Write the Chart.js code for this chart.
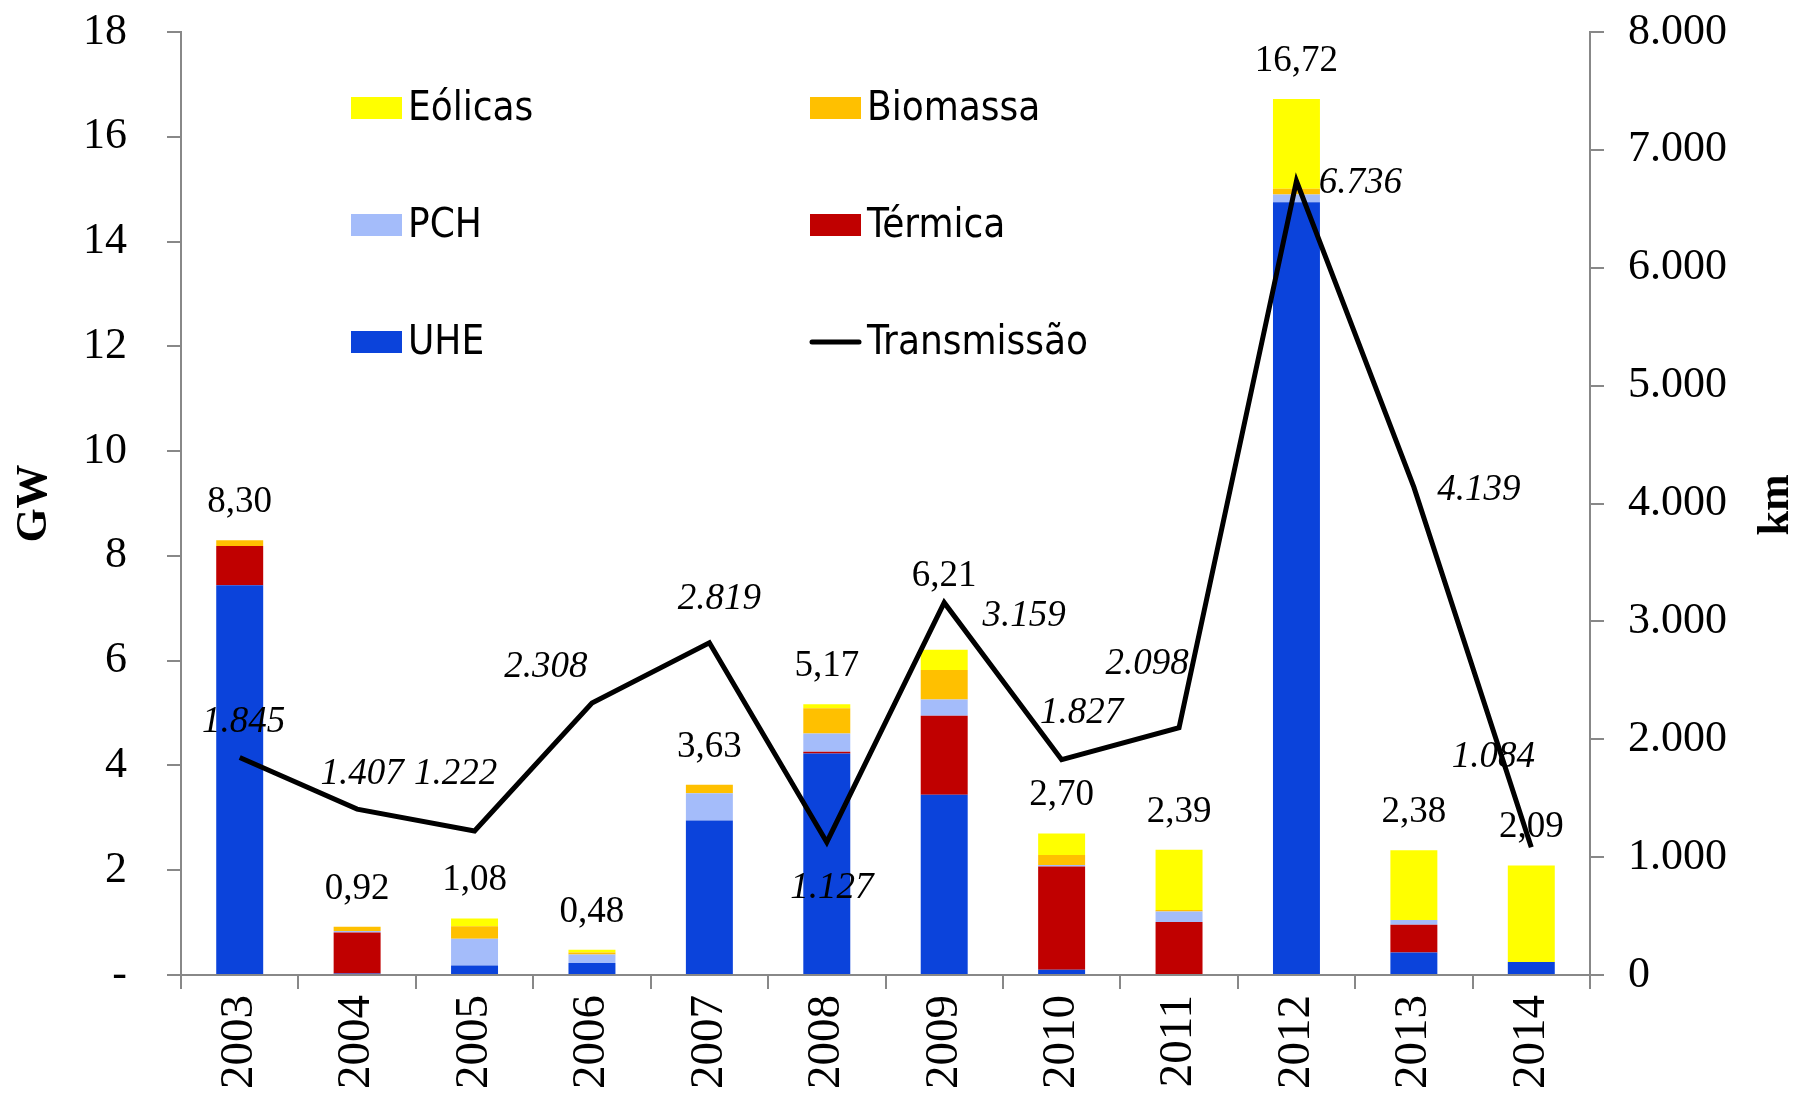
<!DOCTYPE html>
<html>
<head>
<meta charset="utf-8">
<script src="https://cdn.jsdelivr.net/npm/chart.js@4.4.1/dist/chart.umd.min.js"></script>
<style>
  html, body { margin: 0; padding: 0; background: #fff; }
  #wrap { width: 1798px; height: 1103px; }
</style>
</head>
<body>
<div id="wrap"><canvas id="myChart"></canvas></div>
<script>
// values
const years = ['2003','2004','2005','2006','2007','2008','2009','2010','2011','2012','2013','2014'];
const uhe      = [7.44, 0.03, 0.18, 0.23, 2.95, 4.23, 3.44, 0.10, 0.00, 14.75, 0.43, 0.25];
const termica  = [0.75, 0.78, 0.00, 0.00, 0.00, 0.03, 1.51, 1.97, 1.01, 0.00, 0.53, 0.00];
const pch      = [0.00, 0.03, 0.51, 0.16, 0.52, 0.35, 0.31, 0.03, 0.20, 0.15, 0.09, 0.00];
const biomassa = [0.11, 0.08, 0.24, 0.04, 0.16, 0.48, 0.56, 0.19, 0.03, 0.11, 0.00, 0.00];
const eolicas  = [0.00, 0.00, 0.15, 0.05, 0.00, 0.08, 0.39, 0.41, 1.15, 1.71, 1.33, 1.84];
const totals   = [8.30, 0.92, 1.08, 0.48, 3.63, 5.17, 6.21, 2.70, 2.39, 16.72, 2.38, 2.09];
const transmissao = [1845, 1407, 1222, 2308, 2819, 1127, 3159, 1827, 2098, 6736, 4139, 1084];

// label placement (px)
const totalLabelLift = [38, 38, 38, 38, 38, 38, 73, 38, 38, 38, 38, 38];
const lineLabelOffsets = [[4,-35],[5,-35],[-19,-57],[-46,-36],[10,-43],[5,46],[80,14],[20,-46],[-32,-63],[64,2],[65,3],[-38,-90]];

const serif = '"Liberation Serif", "Times New Roman", serif';
const sans = '"DejaVu Sans Condensed", "DejaVu Sans", sans-serif';
const axisGray = '#888888';

const fmtKm = v => String(v).replace(/\B(?=(\d{3})+(?!\d))/g, '.');
const fmtGw = v => v.toFixed(2).replace('.', ',');

const labelsPlugin = {
  id: 'labelsPlugin',
  afterDatasetsDraw(chart) {
    const ctx = chart.ctx;
    const x = chart.scales.x, y = chart.scales.y;
    ctx.save();
    ctx.fillStyle = '#000';
    ctx.textAlign = 'center';
    ctx.textBaseline = 'middle';
    ctx.font = '37px ' + serif;
    totals.forEach((t, i) => {
      ctx.fillText(fmtGw(t), x.getPixelForValue(i), y.getPixelForValue(t) - totalLabelLift[i]);
    });
    ctx.font = 'italic 37px ' + serif;
    const meta = chart.getDatasetMeta(5);
    meta.data.forEach((pt, i) => {
      const o = lineLabelOffsets[i];
      ctx.fillText(fmtKm(transmissao[i]), pt.x + o[0], pt.y + o[1]);
    });
    ctx.restore();
  },
  afterDraw(chart) {
    const ctx = chart.ctx;
    ctx.save();
    // km axis title
    ctx.font = 'bold 44px ' + serif;
    ctx.fillStyle = '#000';
    ctx.textAlign = 'center';
    ctx.textBaseline = 'middle';
    ctx.translate(1777, 505);
    ctx.rotate(-Math.PI / 2);
    ctx.fillText('km', 0, 0);
    ctx.restore();

    // legend, 2 columns x 3 rows
    const items = [
      { text: 'Eólicas', ds: 4, col: 0, row: 0 },
      { text: 'Biomassa', ds: 3, col: 1, row: 0 },
      { text: 'PCH', ds: 2, col: 0, row: 1 },
      { text: 'Térmica', ds: 1, col: 1, row: 1 },
      { text: 'UHE', ds: 0, col: 0, row: 2 },
      { text: 'Transmissão', ds: 5, col: 1, row: 2 }
    ];
    const colX = [351, 810];
    const rowY = [108, 225, 342];
    ctx.save();
    ctx.font = '40px ' + sans;
    ctx.textBaseline = 'middle';
    ctx.textAlign = 'left';
    items.forEach(it => {
      const ds = chart.data.datasets[it.ds];
      const sx = colX[it.col], sy = rowY[it.row];
      if (ds.type === 'line') {
        ctx.strokeStyle = '#000';
        ctx.lineWidth = 5;
        ctx.lineCap = 'round';
        ctx.beginPath();
        ctx.moveTo(sx + 2, sy);
        ctx.lineTo(sx + 49, sy);
        ctx.stroke();
      } else {
        ctx.fillStyle = ds.backgroundColor;
        ctx.fillRect(sx, sy - 11, 51, 22);
      }
      ctx.fillStyle = '#000';
      ctx.fillText(it.text, sx + 57, sy + 2);
    });
    ctx.restore();
  }
};

const barDs = (label, data, color) => ({
  type: 'bar', label, data, backgroundColor: color, yAxisID: 'y', stack: 'gw', order: 1,
  borderWidth: 0, categoryPercentage: 1, barPercentage: 0.4
});

const fitVertical = w => s => { s.width = w; s.paddingTop = 0; s.paddingBottom = 0; };

new Chart(document.getElementById('myChart'), {
  data: {
    labels: years,
    datasets: [
      barDs('UHE', uhe, '#0B43DB'),
      barDs('Térmica', termica, '#C00000'),
      barDs('PCH', pch, '#A4BCFA'),
      barDs('Biomassa', biomassa, '#FFC000'),
      barDs('Eólicas', eolicas, '#FFFF00'),
      {
        type: 'line', label: 'Transmissão', data: transmissao, yAxisID: 'y1', order: 0,
        borderColor: '#000', borderWidth: 5, pointRadius: 0, tension: 0, fill: false
      }
    ]
  },
  options: {
    responsive: true,
    maintainAspectRatio: false,
    animation: false,
    layout: { padding: { top: 32, left: 0, right: 0, bottom: 0 } },
    plugins: { legend: { display: false }, tooltip: { enabled: false } },
    scales: {
      x: {
        stacked: true,
        grid: { drawOnChartArea: false, color: axisGray, lineWidth: 2, tickLength: 14 },
        border: { color: axisGray, width: 2 },
        ticks: { color: '#000', font: { family: serif, size: 47 }, maxRotation: 90, minRotation: 90, padding: 6 },
        afterFit: s => { s.height = 128; s.paddingLeft = 0; s.paddingRight = 0; }
      },
      y: {
        stacked: true,
        position: 'left',
        min: 0, max: 18,
        grid: { drawOnChartArea: false, color: axisGray, lineWidth: 2, tickLength: 14 },
        border: { color: axisGray, width: 2 },
        ticks: { stepSize: 2, color: '#000', font: { family: serif, size: 44 }, padding: 40,
                 callback: v => v === 0 ? '-' : v },
        title: { display: true, text: 'GW', color: '#000', font: { family: serif, size: 44, weight: 'bold' }, padding: { top: 8 } },
        afterFit: fitVertical(181)
      },
      y1: {
        position: 'right',
        min: 0, max: 8000,
        grid: { drawOnChartArea: false, color: axisGray, lineWidth: 2, tickLength: 14 },
        border: { color: axisGray, width: 2 },
        ticks: { stepSize: 1000, color: '#000', font: { family: serif, size: 44 }, padding: 24,
                 callback: v => fmtKm(v) },
        afterFit: fitVertical(208)
      }
    }
  },
  plugins: [labelsPlugin]
});
</script>
</body>
</html>
